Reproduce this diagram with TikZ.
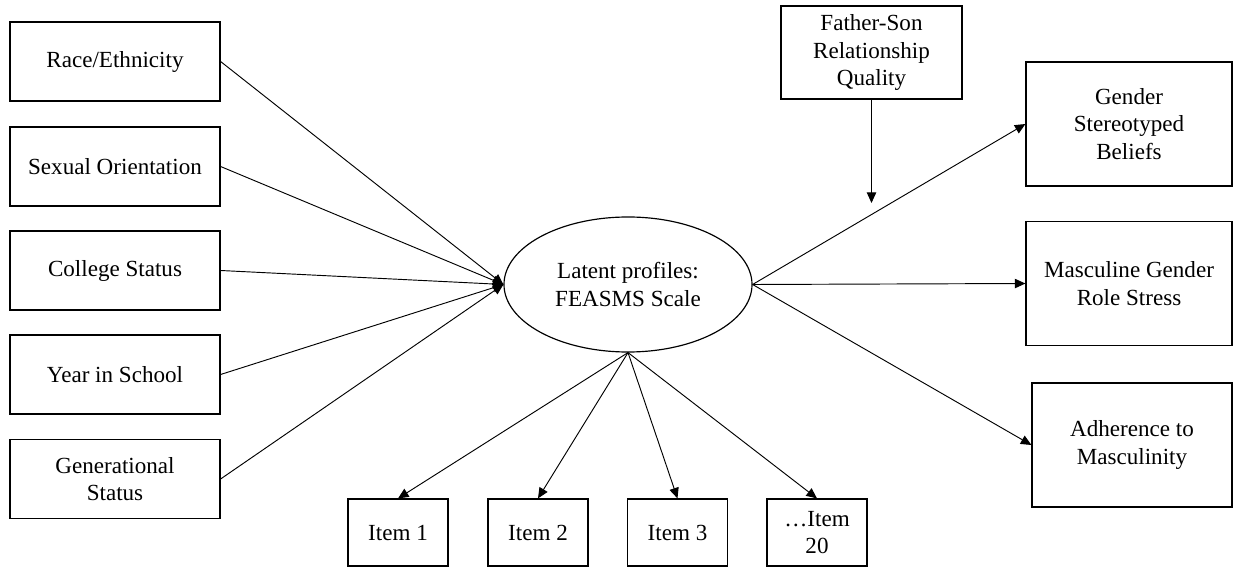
\documentclass[tikz,border=0pt]{standalone}
\usepackage{fontspec}
\setmainfont{Liberation Serif}
\usetikzlibrary{shapes.geometric,arrows.meta}

\tikzset{
  varbox/.style = {draw=black, line width=1pt, align=center, inner sep=0pt,
    font=\fontsize{19.7}{23.5}\selectfont},% boite de base
  predbox/.style = {varbox, minimum width=6.3cm, minimum height=2.37cm},% predicteurs
  outbox/.style = {varbox, minimum width=6.18cm, minimum height=3.72cm},% resultats
  itembox/.style = {varbox, minimum width=3cm, minimum height=2.01cm},% items
  latent/.style = {varbox, ellipse, minimum width=7.44cm, minimum height=4.05cm},% profils latents
  link/.style = {line width=0.8pt, -{Triangle[length=9pt,width=8pt]}}
}

\begin{document}
\begin{tikzpicture}[x=0.03cm, y=-0.03cm]
  \useasboundingbox (0,0) rectangle (1233,573);
  % predicteurs
  \node [predbox] (race) at (115,61.5) {Race/Ethnicity};
  \node [predbox] (sexor) at (115,166.5) {Sexual Orientation};
  \node [predbox] (college) at (115,270.5) {College Status};
  \node [predbox] (year) at (115,374.5) {Year in School};
  \node [predbox] (gener) at (115,479) {Generational\\Status};
  % profils latents
  \node [latent] (profiles) at (628,284.5) {Latent profiles:\\FEASMS Scale};
  % items
  \node [itembox] (item1) at (398,532.5) {Item 1};
  \node [itembox] (item2) at (538,532.5) {Item 2};
  \node [itembox] (item3) at (677.5,532.5) {Item 3};
  \node [itembox] (item20) at (817,532.5) {\dots Item\\20};
  % moderateur
  \node [varbox, minimum width=5.43cm, minimum height=2.79cm] (father) at (871.5,52.5)
    {Father-Son\\Relationship\\Quality};
  \coordinate (modpt) at (871.5,203);
  % resultats
  \node [outbox] (gender) at (1129,124) {Gender\\Stereotyped\\Beliefs};
  \node [outbox] (mgrs) at (1129,283.5) {Masculine Gender\\Role Stress};
  \node [outbox, minimum width=6cm] (adher) at (1132,445) {Adherence to\\Masculinity};

  \foreach \n in {race,sexor,college,year,gener}
    \draw [link] (\n.east) -- (profiles.west);
  \foreach \n in {item1,item2,item3,item20}
    \draw [link] (profiles.south) -- (\n.north);
  \foreach \n in {gender,mgrs,adher}
    \draw [link] (profiles.east) -- (\n.west);
  \draw [link] (father.south) -- (modpt);
\end{tikzpicture}
\end{document}
